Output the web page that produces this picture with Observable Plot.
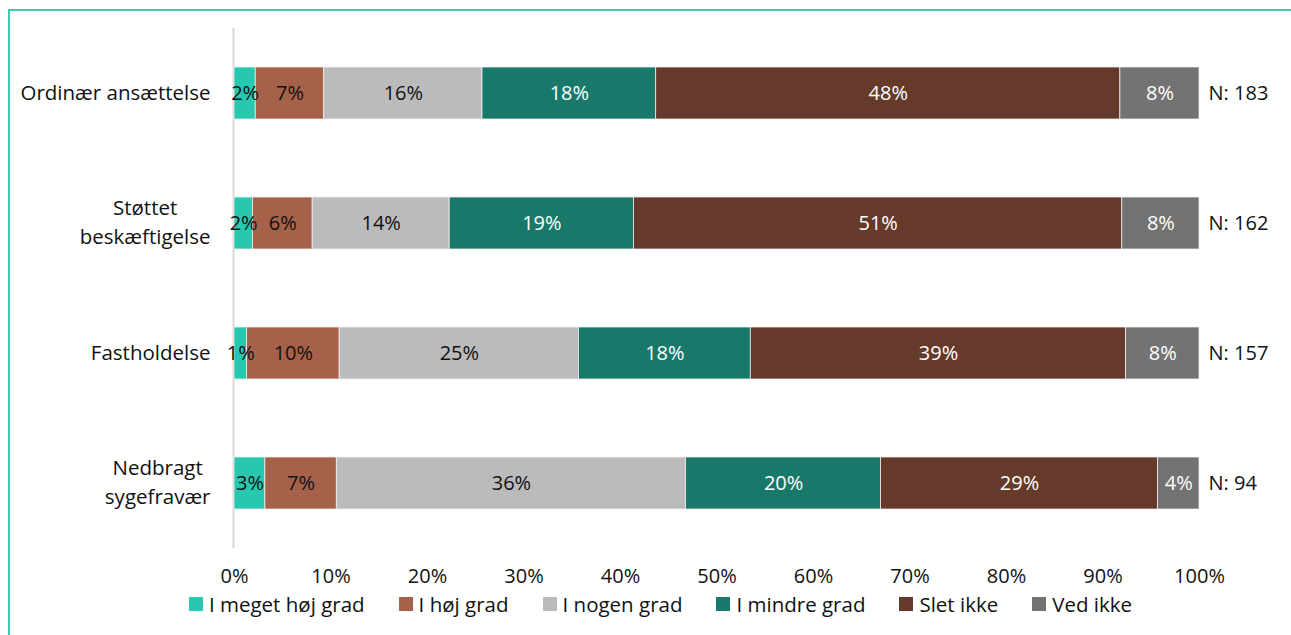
<!DOCTYPE html>
<html>
<head>
<meta charset="utf-8">
<script src="https://cdn.jsdelivr.net/npm/d3@7"></script>
<script src="https://cdn.jsdelivr.net/npm/@observablehq/plot@0.6"></script>
<style>
  html, body { margin: 0; padding: 0; background: #fff; overflow: hidden; }
  body { width: 1291px; height: 635px; position: relative; font-family: "Open Sans", "Noto Sans", sans-serif; }
  #frame { position: absolute; left: 8px; top: 9px; width: 1400px; height: 800px;
           border-top: 2px solid #3ccbb2; border-left: 2px solid #3ccbb2; pointer-events: none; }
  #chart { position: absolute; left: 0; top: 0; }
  #legend { position: absolute; left: 0; top: 590px; width: 1291px; height: 28px;
            display: flex; justify-content: center; align-items: center; padding-left: 30px; box-sizing: border-box;
            font-size: 20.5px; color: #111; }
  .item { display: flex; align-items: center; margin: 0 17px; white-space: nowrap; }
  .sw { width: 14px; height: 14px; margin-right: 6px; }
</style>
</head>
<body>
<div id="frame"></div>
<div id="chart"></div>
<div id="legend"></div>
<script>
const categories = ["Ordinær ansættelse", "Støttet\nbeskæftigelse", "Fastholdelse", "Nedbragt\nsygefravær"];
const nLabels = ["N: 183", "N: 162", "N: 157", "N: 94"];
const series = ["I meget høj grad", "I høj grad", "I nogen grad", "I mindre grad", "Slet ikke", "Ved ikke"];
const colors = ["#26c9b0", "#a6614a", "#bbbbbb", "#18796a", "#663a2b", "#737373"];
const labelColors = ["#111", "#111", "#111", "#fff", "#fff", "#fff"];
// percent values per series, in category order
const meGetHoej = [2.2, 1.9, 1.3, 3.2];
const hoej      = [7.1, 6.2, 9.6, 7.4];
const nogen     = [16.4, 14.2, 24.8, 36.2];
const mindre    = [18.0, 19.1, 17.8, 20.2];
const sletIkke  = [48.1, 50.6, 38.9, 28.7];
const vedIkke   = [8.2, 8.0, 7.6, 4.3];
const xTicks = [0, 10, 20, 30, 40, 50, 60, 70, 80, 90, 100];

const seriesValues = [meGetHoej, hoej, nogen, mindre, sletIkke, vedIkke];
const data = [];
categories.forEach((c, ci) => {
  seriesValues.forEach((vals, si) => {
    data.push({cat: c, series: series[si], si, value: vals[ci]});
  });
});
const nData = categories.map((c, i) => ({cat: c, label: nLabels[i]}));

const FONT = "'Open Sans', 'Noto Sans', sans-serif";
const plot = Plot.plot({
  width: 1291,
  height: 590,
  marginLeft: 234,
  marginRight: 92,
  marginTop: 28,
  marginBottom: 42,
  style: {fontFamily: FONT, fontSize: "20px", color: "#111", background: "transparent"},
  x: {domain: [0, 100], ticks: xTicks, tickFormat: d => d + "%", tickSize: 0, tickPadding: 20, label: null},
  y: {domain: categories, paddingInner: 0.6, paddingOuter: 0.3, label: null},
  color: {domain: series, range: colors},
  marks: [
    Plot.ruleX([0], {stroke: "#d9d9d9", strokeWidth: 2, dx: -1}),
    Plot.barX(data, Plot.stackX({x: "value", y: "cat", fill: "series", order: null, stroke: "#f2f2f2", strokeWidth: 0.75})),
    Plot.text(data, Plot.stackX({x: "value", y: "cat", order: null, text: d => Math.round(d.value) + "%",
      fill: d => labelColors[d.si], fontSize: 20})),
    Plot.text(nData, {x: 100, y: "cat", text: "label", textAnchor: "start", dx: 9, fill: "#111", fontSize: 20}),
    Plot.axisX({ticks: xTicks, tickFormat: d => d + "%", tickSize: 0, tickPadding: 20, label: null, fontSize: 20}),
    Plot.axisY({tickSize: 0, tickPadding: 24, label: null, fontSize: 20.5, lineHeight: 1.4, dy: -3})
  ]
});
document.getElementById("chart").appendChild(plot);

// center multi-line category labels within their block (as in the original)
plot.querySelectorAll("text").forEach(t => {
  const spans = t.querySelectorAll("tspan");
  if (spans.length > 1 && categories.some(c => c.startsWith(spans[0].textContent))) {
    let maxW = 0;
    spans.forEach(s => { maxW = Math.max(maxW, s.getComputedTextLength()); });
    t.setAttribute("text-anchor", "middle");
    spans.forEach(s => s.setAttribute("x", -maxW / 2));
  }
});

const legend = document.getElementById("legend");
series.forEach((s, i) => {
  const item = document.createElement("div");
  item.className = "item";
  const sw = document.createElement("div");
  sw.className = "sw";
  sw.style.background = colors[i];
  const lab = document.createElement("span");
  lab.textContent = s;
  item.appendChild(sw);
  item.appendChild(lab);
  legend.appendChild(item);
});
</script>
</body>
</html>
